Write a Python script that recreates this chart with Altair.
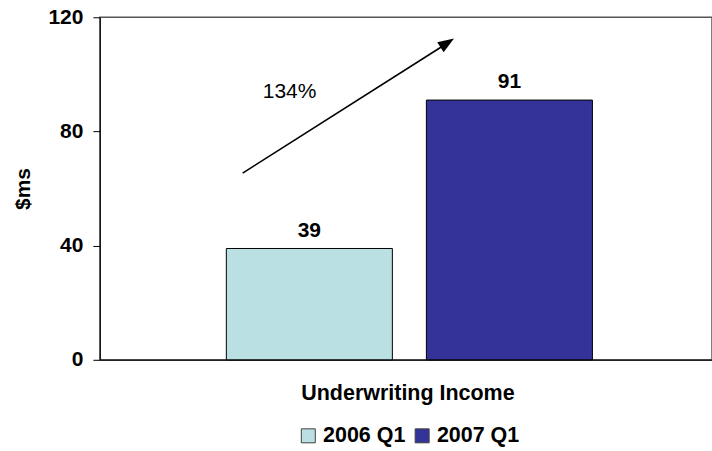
import altair as alt
import pandas as pd

category = "Underwriting Income"
series = ["2006 Q1", "2007 Q1"]
values = [39, 91]
colors = ["#BBE0E3", "#333399"]
y_ticks = [0, 40, 80, 120]
growth_label = ["134%"]

FONT = "Liberation Sans"

df = pd.DataFrame({"series": series, "value": values})
note_df = pd.DataFrame({"label": growth_label})

x_enc = alt.X(
    "series:N",
    sort=series,
    scale=alt.Scale(paddingInner=0.17, paddingOuter=0.615, align=0.514),
    axis=alt.Axis(
        title=category, labels=False, ticks=False, domainColor="black", domainWidth=1,
        titleFont=FONT, titleFontSize=21.5, titleFontWeight="bold", titleColor="black",
        titleX=308, titleY=40, titleBaseline="alphabetic", titleAlign="center",
    ),
)
y_enc = alt.Y(
    "value:Q",
    scale=alt.Scale(domain=[0, 120], nice=False),
    axis=alt.Axis(
        values=y_ticks, title="$ms", grid=False, tickSize=7, tickColor="black",
        domainColor="black", domainWidth=1,
        labelFont=FONT, labelFontSize=21, labelFontWeight="bold", labelColor="black",
        labelPadding=10,
        titleFont=FONT, titleFontSize=21, titleFontWeight="bold", titleColor="black",
        titleX=-76, titleY=171.5, titleAngle=270, titleAlign="center", titleBaseline="middle",
    ),
)

base = alt.Chart(df)

bars = base.mark_bar(stroke="black", strokeWidth=1).encode(
    x=x_enc,
    y=y_enc,
    color=alt.Color(
        "series:N",
        scale=alt.Scale(domain=series, range=colors),
        legend=alt.Legend(
            orient="none", legendX=198, legendY=408, direction="horizontal", title=None,
            symbolType="square", symbolSize=196, symbolStrokeColor="#404040",
            symbolStrokeWidth=1, symbolOpacity=1,
            labelFont=FONT, labelFontSize=21.5, labelFontWeight="bold", labelColor="black",
            labelOffset=4, columnPadding=6,
        ),
    ),
)

labels = base.mark_text(
    dy=-12, baseline="alphabetic", font=FONT, fontSize=21, fontWeight="bold", color="black"
).encode(x=alt.X("series:N", sort=series), y="value:Q", text="value:Q")

rule = alt.Chart(note_df).mark_rule(color="black", strokeWidth=1.6).encode(
    x=alt.value(143), y=alt.value(156), x2=alt.value(347), y2=alt.value(26.5)
)
head = alt.Chart(note_df).mark_point(
    shape="M0,-1L0.7,0.9L-0.7,0.9Z", filled=True, color="black", opacity=1,
    size=289, angle=57.5,
).encode(x=alt.value(347.5), y=alt.value(25.8))
pct = alt.Chart(note_df).mark_text(
    font=FONT, fontSize=21, color="black", align="center", baseline="middle"
).encode(x=alt.value(190), y=alt.value(75), text="label:N")

chart = (
    alt.layer(bars, labels, rule, head, pct)
    .properties(
        width=613,
        height=343,
        autosize=alt.AutoSizeParams(type="none"),
        padding={"left": 100, "top": 17, "right": 0, "bottom": 91},
        background="white",
    )
    .configure_view(stroke="#555555", strokeWidth=1.5)
)

chart.save("out.html", embed_options={"renderer": "svg", "actions": False})
